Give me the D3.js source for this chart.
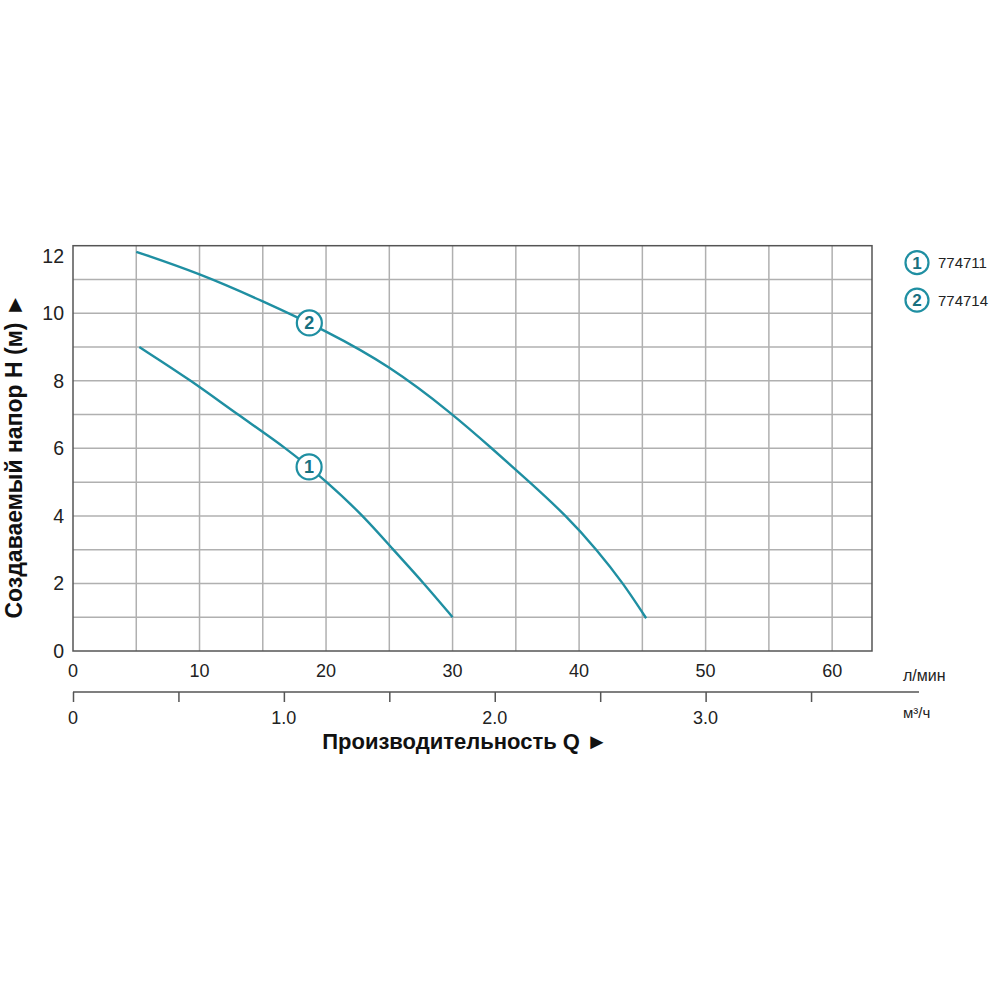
<!DOCTYPE html>
<html>
<head>
<meta charset="utf-8">
<script src="https://cdn.jsdelivr.net/npm/d3@7"></script>
<style>
  body { margin: 0; background: #fff; }
  svg { font-family: "Liberation Sans", Arial, sans-serif; }
</style>
</head>
<body>
<svg width="1000" height="1000"></svg>
<script>
// pump curves: flow Q (l/min) vs head H (m)
const flow1 = [5.24, 9.38, 13.0, 16.9, 20.1, 22.95, 25.3, 27.75, 30.0];
const head1 = [9.0, 8.0, 7.0, 6.0, 5.0, 4.0, 3.0, 2.0, 1.0];
const flow2 = [5.0, 10, 15, 20, 25, 30, 33.1, 36.1, 39.0, 41.4, 43.5, 45.3];
const head2 = [11.82, 11.18, 10.36, 9.48, 8.45, 7.02, 6.0, 5.0, 4.0, 3.0, 2.0, 0.97];
const models = ["774711", "774714"];
const markerFlow = [18.66, 18.68];
const yTicks = [0, 2, 4, 6, 8, 10, 12];
const xTicksLmin = [0, 10, 20, 30, 40, 50, 60];
const xTicksM3 = [0, 1.0, 2.0, 3.0];

const teal = "#1f8fa2";
const gridCol = "#b0b0b0";
const frameCol = "#555";

const svg = d3.select("svg");
const pLeft = 73, pRight = 872, pTop = 245.7, pBottom = 651;

const x = d3.scaleLinear().domain([0, 63.15]).range([pLeft, pRight]);
const y = d3.scaleLinear().domain([0, 12]).range([pBottom, pTop]);
// m3/h axis shares the same pixels: 1 m3/h = 16.667 l/min
const xm = d3.scaleLinear().domain([0, 1]).range([pLeft, x(1000 / 60)]);

// grid
const g = svg.append("g");
g.selectAll(".gx").data(d3.range(5, 63, 5)).enter().append("line")
  .attr("x1", d => x(d)).attr("x2", d => x(d))
  .attr("y1", pTop).attr("y2", pBottom)
  .attr("stroke", gridCol).attr("stroke-width", 1.5);
g.selectAll(".gy").data(d3.range(1, 12)).enter().append("line")
  .attr("x1", pLeft).attr("x2", pRight)
  .attr("y1", d => y(d)).attr("y2", d => y(d))
  .attr("stroke", gridCol).attr("stroke-width", 1.5);
g.append("rect")
  .attr("x", pLeft).attr("y", pTop)
  .attr("width", pRight - pLeft).attr("height", pBottom - pTop)
  .attr("fill", "none").attr("stroke", frameCol).attr("stroke-width", 1.5);

// y tick labels (top one nudged down inside the frame like the original)
svg.selectAll(".yl").data(yTicks).enter().append("text")
  .attr("x", 64).attr("y", d => Math.max(y(d), pTop + 10) + 7)
  .attr("text-anchor", "end").attr("font-size", 19.5).attr("fill", "#222")
  .text(d => d);

// upper x labels (l/min)
svg.selectAll(".xl").data(xTicksLmin).enter().append("text")
  .attr("x", d => x(d)).attr("y", 677)
  .attr("text-anchor", "middle").attr("font-size", 18).attr("fill", "#222")
  .text(d => d);
svg.append("text").attr("x", 903).attr("y", 681)
  .attr("font-size", 16).attr("fill", "#222").text("л/мин");

// second axis m3/h
const axM = d3.axisBottom(xm).tickValues(d3.range(0, 3.51, 0.5))
  .tickSize(10).tickFormat("");
const ag = svg.append("g").attr("transform", "translate(0,692)").call(axM);
ag.select(".domain").attr("d", `M${pLeft},0H919`).attr("stroke", frameCol).attr("stroke-width", 1.5);
ag.selectAll(".tick line").attr("stroke", frameCol).attr("stroke-width", 1.5);
svg.selectAll(".ml").data(xTicksM3).enter().append("text")
  .attr("x", d => xm(d)).attr("y", 724)
  .attr("text-anchor", "middle").attr("font-size", 18).attr("fill", "#222")
  .text(d => d === 0 ? "0" : d3.format(".1f")(d));
svg.append("text").attr("x", 903).attr("y", 718)
  .attr("font-size", 15).attr("fill", "#222").text("м³/ч");

// axis titles
svg.append("text")
  .attr("transform", "translate(22,456) rotate(-90)")
  .attr("text-anchor", "middle").attr("font-size", 23).attr("font-weight", "bold")
  .attr("fill", "#111").text("Создаваемый напор H (м) ►");
svg.append("text").attr("x", 465).attr("y", 749)
  .attr("text-anchor", "middle").attr("font-size", 22).attr("font-weight", "bold")
  .attr("fill", "#111").text("Производительность Q ►");

// curves
const line = d3.line().x(d => x(d[0])).y(d => y(d[1])).curve(d3.curveBasis);
const series = [d3.zip(flow1, head1), d3.zip(flow2, head2)];
svg.selectAll(".curve").data(series).enter().append("path")
  .attr("d", line).attr("fill", "none")
  .attr("stroke", teal).attr("stroke-width", 2.4);

// markers on curves
function headAt(s, q) {
  const i = d3.bisector(d => d[0]).left(s, q);
  const a = s[i - 1], b = s[i];
  return a[1] + (b[1] - a[1]) * (q - a[0]) / (b[0] - a[0]);
}
series.forEach((s, i) => {
  const cx = x(markerFlow[i]), cy = y(headAt(s, markerFlow[i]));
  svg.append("circle").attr("cx", cx).attr("cy", cy).attr("r", 12.5)
    .attr("fill", "#fff").attr("stroke", teal).attr("stroke-width", 2.2);
  svg.append("text").attr("x", cx).attr("y", cy + 6.5)
    .attr("text-anchor", "middle").attr("font-size", 18).attr("font-weight", "bold")
    .attr("fill", "#17707f").text(i + 1);
});

// legend
models.forEach((m, i) => {
  const cy = 262.7 + i * 37.5;
  svg.append("circle").attr("cx", 917).attr("cy", cy).attr("r", 11.5)
    .attr("fill", "#fff").attr("stroke", teal).attr("stroke-width", 2.2);
  svg.append("text").attr("x", 917).attr("y", cy + 6)
    .attr("text-anchor", "middle").attr("font-size", 17).attr("font-weight", "bold")
    .attr("fill", "#17707f").text(i + 1);
  svg.append("text").attr("x", 938).attr("y", cy + 5.5)
    .attr("font-size", 15).attr("fill", "#222").text(m);
});
</script>
</body>
</html>
